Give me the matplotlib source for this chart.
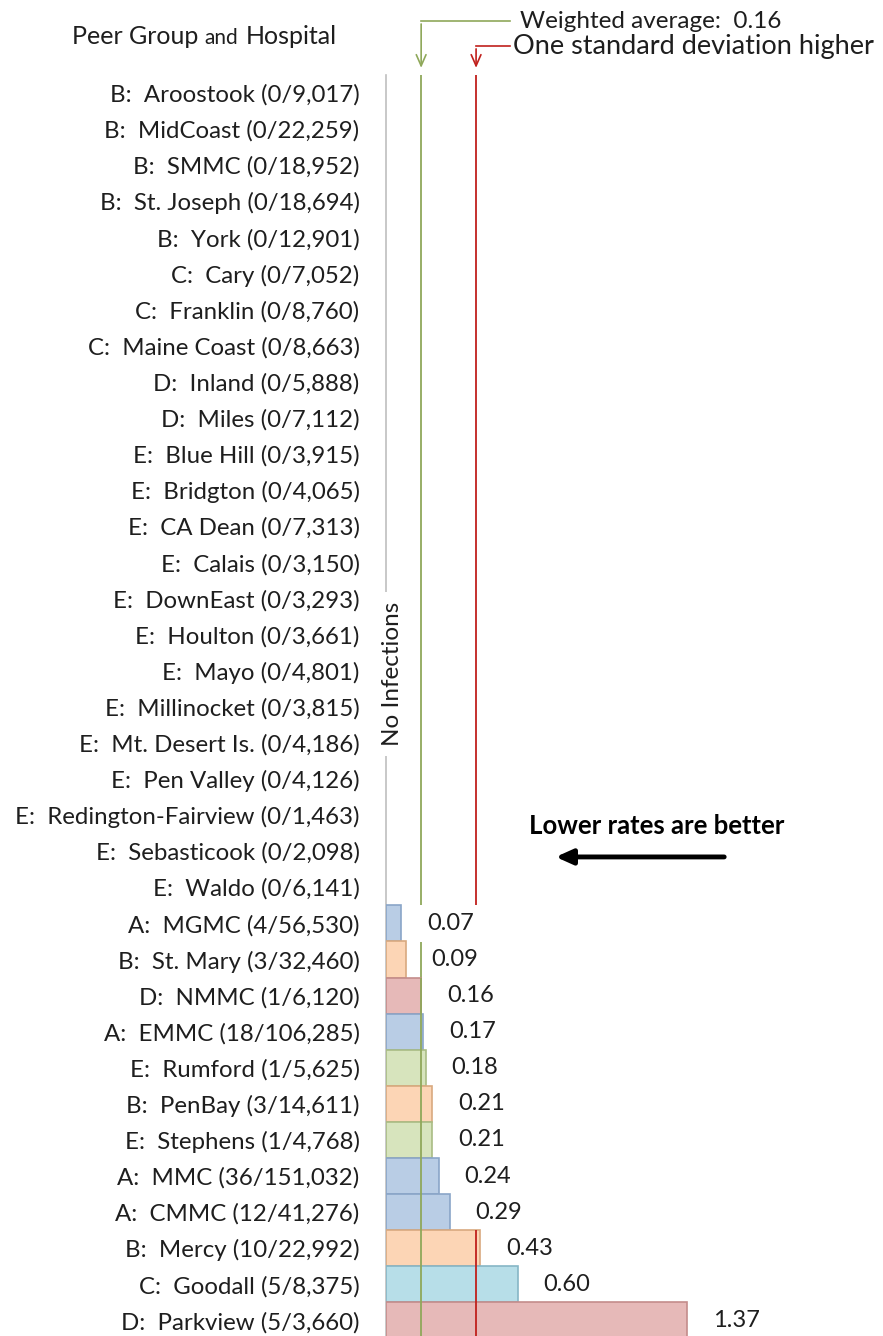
## horizontal bar chart of infection rates by hospital, grouped by peer group
import numpy as np
import matplotlib.pyplot as plt

plt.rcParams['font.family'] = ['Lato', 'DejaVu Sans']

hospitals = ["B:  Aroostook (0/9,017)", "B:  MidCoast (0/22,259)", "B:  SMMC (0/18,952)",
             "B:  St. Joseph (0/18,694)", "B:  York (0/12,901)", "C:  Cary (0/7,052)",
             "C:  Franklin (0/8,760)", "C:  Maine Coast (0/8,663)", "D:  Inland (0/5,888)",
             "D:  Miles (0/7,112)", "E:  Blue Hill (0/3,915)", "E:  Bridgton (0/4,065)",
             "E:  CA Dean (0/7,313)", "E:  Calais (0/3,150)", "E:  DownEast (0/3,293)",
             "E:  Houlton (0/3,661)", "E:  Mayo (0/4,801)", "E:  Millinocket (0/3,815)",
             "E:  Mt. Desert Is. (0/4,186)", "E:  Pen Valley (0/4,126)",
             "E:  Redington-Fairview (0/1,463)", "E:  Sebasticook (0/2,098)",
             "E:  Waldo (0/6,141)", "A:  MGMC (4/56,530)", "B:  St. Mary (3/32,460)",
             "D:  NMMC (1/6,120)", "A:  EMMC (18/106,285)", "E:  Rumford (1/5,625)",
             "B:  PenBay (3/14,611)", "E:  Stephens (1/4,768)", "A:  MMC (36/151,032)",
             "A:  CMMC (12/41,276)", "B:  Mercy (10/22,992)", "C:  Goodall (5/8,375)",
             "D:  Parkview (5/3,660)"]
rates = [0] * 23 + [0.07, 0.09, 0.16, 0.17, 0.18, 0.21, 0.21, 0.24, 0.29, 0.43, 0.60, 1.37]
weighted_avg = 0.16
one_sd_higher = 0.41

fills = {"A": "#b9cde5", "B": "#fcd5b5", "C": "#b7dee8", "D": "#e6b9b8", "E": "#d7e4bd"}
edges = {"A": "#8aa5c8", "B": "#d9a97f", "C": "#86b6c6", "D": "#c48c8b", "E": "#a9bc84"}
txt = '#1e1e1e'
green = '#8fa85a'
red = '#c0201c'

fig = plt.figure(figsize=(8.83, 13.36), dpi=100)
ax = fig.add_axes([386 / 883, 0, 497 / 883, 1 - 75 / 1336])

## reference lines: full height under the labels...
ax.axvline(weighted_avg, color=green, lw=1.3, zorder=3)
ax.axvline(one_sd_higher, color=red, lw=1.3, zorder=3)

y = np.arange(len(hospitals))
groups = [h[0] for h in hospitals]
for i, r in enumerate(rates):
    if r > 0:
        ax.barh(i, r, height=1.0, color=fills[groups[i]], edgecolor=edges[groups[i]],
                linewidth=1.2, zorder=6)
        ## white box behind the label hides the reference lines, like the original
        ax.annotate(f"{r:.2f}", (r, i), textcoords="offset points", xytext=(18.5, 0),
                    ha='left', va='center', fontsize=17, color=txt, zorder=5,
                    bbox=dict(facecolor='white', edgecolor='none', pad=6))
        ## ...and redrawn on top of any bar they cross
        for xv, c in [(weighted_avg, green), (one_sd_higher, red)]:
            if r >= xv:
                ax.vlines(xv, i - 0.5, i + 0.5, color=c, lw=1.3, zorder=7)

ax.set_xlim(0, 497 / 219.7)
ax.set_ylim(34.43, -0.5)
ax.set_yticks(y)
ax.set_yticklabels(hospitals, fontsize=17.3, color=txt)
ax.tick_params(axis='y', length=0, pad=19)
ax.set_xticks([])
for s in ['top', 'right', 'bottom']:
    ax.spines[s].set_visible(False)
ax.spines['left'].set_color('#bfbfbf')
ax.spines['left'].set_linewidth(1.2)

## callouts above the plot
ax.plot([weighted_avg, 0.564], [-1.99, -1.99], color=green, lw=1.2, clip_on=False)
ax.annotate('', xy=(weighted_avg, -0.62), xytext=(weighted_avg, -1.99),
            arrowprops=dict(arrowstyle='->,head_width=0.35,head_length=0.8', color=green, lw=1.2),
            annotation_clip=False)
ax.text(0.61, -1.99, "Weighted average:  0.16", fontsize=17.5, color=txt,
        ha='left', va='center', clip_on=False)
ax.plot([one_sd_higher, 0.564], [-1.30, -1.30], color=red, lw=1.2, clip_on=False)
ax.annotate('', xy=(one_sd_higher, -0.62), xytext=(one_sd_higher, -1.30),
            arrowprops=dict(arrowstyle='->,head_width=0.35,head_length=0.8', color=red, lw=1.2),
            annotation_clip=False)
ax.text(0.578, -1.30, "One standard deviation higher", fontsize=19.5, color=txt,
        ha='left', va='center', clip_on=False)

## header
t1 = fig.text(72 / 883, 1 - 37 / 1336, "Peer Group", fontsize=18, color=txt, va='center')
a1 = ax.annotate("and", xy=(1, 0), xycoords=t1, xytext=(4, 0), textcoords='offset points',
                 fontsize=15, color=txt, va='bottom')
ax.annotate("Hospital", xy=(1, 0), xycoords=a1, xytext=(6, 0), textcoords='offset points',
            fontsize=18, color=txt, va='bottom')

## no infections label over the axis line
ax.text(0.03, 16.1, "No Infections", rotation=90, fontsize=17.5, color=txt,
        ha='center', va='center', zorder=4,
        bbox=dict(facecolor='white', edgecolor='none', pad=7))

## lower rates are better
ax.text(1.233, 20.3, "Lower rates are better", fontsize=18.5, fontweight='bold',
        color='black', ha='center', va='center')
ax.annotate('', xy=(0.76, 21.16), xytext=(1.552, 21.16),
            arrowprops=dict(arrowstyle='-|>,head_width=0.45,head_length=1.0', color='black', lw=3.5))

plt.savefig("out.png", dpi=100)
